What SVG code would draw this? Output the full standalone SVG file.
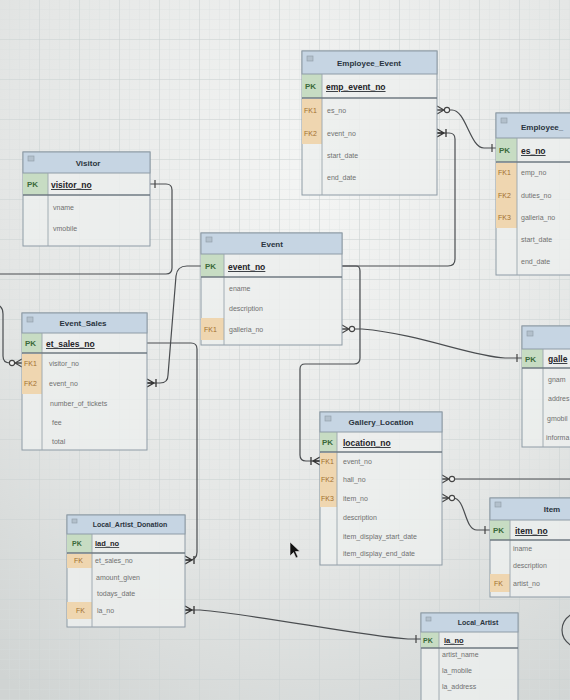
<svg xmlns="http://www.w3.org/2000/svg" width="570" height="700" viewBox="0 0 570 700">
<defs>
<radialGradient id="bg" cx="0.55" cy="0.25" r="0.9">
<stop offset="0" stop-color="#f4f5f4"/>
<stop offset="0.6" stop-color="#e4e6e5"/>
<stop offset="1" stop-color="#d0d4d3"/>
</radialGradient>
<pattern id="minor" width="10" height="10" patternUnits="userSpaceOnUse">
<path d="M10 0V10H0" fill="none" stroke="#d9dddd" stroke-width="0.6"/>
</pattern>
<pattern id="major" width="40" height="40" patternUnits="userSpaceOnUse">
<path d="M40 0V40H0" fill="none" stroke="#c9cfcf" stroke-width="0.9"/>
</pattern>
<marker id="one" viewBox="-14 -6 16 12" refX="0" refY="0" markerWidth="16" markerHeight="12" markerUnits="userSpaceOnUse" orient="auto-start-reverse" overflow="visible">
<path d="M-5 -4V4" stroke="#444" stroke-width="1.2" fill="none"/>
</marker>
<marker id="zmany" viewBox="-16 -6 18 12" refX="0" refY="0" markerWidth="18" markerHeight="12" markerUnits="userSpaceOnUse" orient="auto-start-reverse" overflow="visible">
<path d="M0 -4L-7 0L0 4M0 0H-7" stroke="#444" stroke-width="1.1" fill="none"/>
<circle cx="-10" cy="0" r="2.6" fill="#f2f3f2" stroke="#444" stroke-width="1.1"/>
</marker>
<marker id="omany" viewBox="-16 -6 18 12" refX="0" refY="0" markerWidth="18" markerHeight="12" markerUnits="userSpaceOnUse" orient="auto-start-reverse" overflow="visible">
<path d="M0 -4L-7 0L0 4M0 0H-7M-9 -4V4" stroke="#333" stroke-width="1.3" fill="none"/>
</marker>
</defs>
<style>
.body{fill:#eceeed;fill-opacity:0.85;stroke:#8e9ba6;stroke-width:1}
.hdr{fill:#c6d5e3;stroke:#8e9ba6;stroke-width:1}
.pkc{fill:#c7dcc3}
.fkc{fill:#efd6b0}
.div{stroke:#9aa5ad;stroke-width:0.9;fill:none}
.sep{stroke:#6f7a82;stroke-width:1.3;fill:none}
.ico{fill:#b3c0cc;stroke:#8e9ba6;stroke-width:0.6}
.ttl{font-family:"Liberation Sans",Arial,sans-serif;font-size:8px;font-weight:bold;fill:#2a3440}
.pk{font-family:"Liberation Sans",Arial,sans-serif;font-size:8px;font-weight:bold;fill:#3b6a3b}
.fk{font-family:"Liberation Sans",Arial,sans-serif;font-size:7px;fill:#a26f2e}
.pkn{font-family:"Liberation Sans",Arial,sans-serif;font-size:8.5px;font-weight:bold;fill:#1e2328;text-decoration:underline}
.row{font-family:"Liberation Sans",Arial,sans-serif;font-size:7px;fill:#707070}
.con{fill:none;stroke:#4a4d50;stroke-width:1.2}
</style>
<rect width="570" height="700" fill="url(#bg)"/>
<rect width="570" height="700" fill="url(#minor)"/>
<rect width="570" height="700" fill="url(#major)"/>

<g id="connectors">
<path class="con" marker-start="url(#zmany)" marker-end="url(#one)" d="M437,110 H452 C466,110 470,148 484,148 H497"/>
<path class="con" marker-start="url(#omany)" d="M437,133 H449 Q455,133 455,139 V259 Q455,266 448,266 H342"/>
<path class="con" marker-end="url(#omany)" d="M342,266 H356 Q360,266 360,271 V358 Q360,364 354,364 H305 Q300,364 300,369 V455 Q300,461 306,461 H320"/>
<path class="con" marker-start="url(#zmany)" marker-end="url(#one)" d="M342,329 H362 C420,334 470,356 505,358 H522"/>
<path class="con" marker-start="url(#one)" marker-end="url(#zmany)" d="M150,184 H166 Q172,184 172,190 V268 Q172,274 166,274 H-8 V304 Q3,304 3,314 V356 Q3,363 10,363 H22"/>
<path class="con" marker-start="url(#omany)" d="M147,383 H160 Q168,383 168,375 L176,276 Q177,266 187,266 H201"/>
<path class="con" marker-end="url(#omany)" d="M147,343 H191 Q197,343 197,349 V552 Q197,560 189,560 H185"/>
<path class="con" marker-start="url(#zmany)" d="M442,479 H580"/>
<path class="con" marker-start="url(#zmany)" marker-end="url(#one)" d="M442,498 H453 C466,498 464,530 477,530 H490"/>
<path class="con" marker-start="url(#omany)" marker-end="url(#one)" d="M185,610 H200 C260,615 360,636 408,639 H421"/>
<path class="con" d="M572,614 Q562,620 562,630 Q562,640 572,646"/>
</g>

<g id="Employee_Event">
<rect class="body" x="302" y="51" width="135" height="144"/>
<rect class="pkc" x="302" y="74" width="20" height="24"/>
<rect class="fkc" x="302" y="99" width="20" height="45"/>
<rect class="hdr" x="302" y="51" width="135" height="23"/>
<rect class="ico" x="307" y="56" width="6" height="5"/>
<path class="div" d="M322,74 V195"/>
<path class="sep" d="M302,98 H437"/>
<text class="ttl" x="369" y="66" text-anchor="middle">Employee_Event</text>
<text class="pk" x="305" y="89">PK</text>
<text class="pkn" x="326" y="90">emp_event_no</text>
<text class="fk" x="304" y="113">FK1</text><text class="row" x="327" y="113">es_no</text>
<text class="fk" x="304" y="136">FK2</text><text class="row" x="327" y="136">event_no</text>
<text class="row" x="327" y="158">start_date</text>
<text class="row" x="327" y="180">end_date</text>
</g>

<g id="Employee">
<rect class="body" x="496" y="113" width="110" height="162"/>
<rect class="pkc" x="496" y="138" width="21" height="24"/>
<rect class="fkc" x="496" y="163" width="21" height="65"/>
<rect class="hdr" x="496" y="113" width="110" height="25"/>
<rect class="ico" x="501" y="118" width="6" height="5"/>
<path class="div" d="M517,138 V275"/>
<path class="sep" d="M496,162 H606"/>
<text class="ttl" x="521" y="130">Employee_</text>
<text class="pk" x="499" y="153">PK</text>
<text class="pkn" x="521" y="154">es_no</text>
<text class="fk" x="498" y="175">FK1</text><text class="row" x="521" y="175">emp_no</text>
<text class="fk" x="498" y="198">FK2</text><text class="row" x="521" y="198">duties_no</text>
<text class="fk" x="498" y="220">FK3</text><text class="row" x="521" y="220">galleria_no</text>
<text class="row" x="521" y="242">start_date</text>
<text class="row" x="521" y="264">end_date</text>
</g>

<g id="Visitor">
<rect class="body" x="23" y="152" width="127" height="94"/>
<rect class="pkc" x="23" y="173" width="25" height="22"/>
<rect class="hdr" x="23" y="152" width="127" height="21"/>
<rect class="ico" x="28" y="156" width="6" height="5"/>
<path class="div" d="M48,173 V246"/>
<path class="sep" d="M23,195 H150"/>
<text class="ttl" x="88" y="166" text-anchor="middle">Visitor</text>
<text class="pk" x="27" y="187">PK</text>
<text class="pkn" x="51" y="188">visitor_no</text>
<text class="row" x="53" y="210">vname</text>
<text class="row" x="53" y="231">vmobile</text>
</g>

<g id="Event">
<rect class="body" x="201" y="233" width="141" height="112"/>
<rect class="pkc" x="201" y="254" width="23" height="23"/>
<rect class="fkc" x="201" y="318" width="23" height="22"/>
<rect class="hdr" x="201" y="233" width="141" height="21"/>
<rect class="ico" x="206" y="237" width="6" height="5"/>
<path class="div" d="M224,254 V345"/>
<path class="sep" d="M201,277 H342"/>
<text class="ttl" x="272" y="247" text-anchor="middle">Event</text>
<text class="pk" x="205" y="269">PK</text>
<text class="pkn" x="228" y="270">event_no</text>
<text class="row" x="229" y="291">ename</text>
<text class="row" x="229" y="311">description</text>
<text class="fk" x="204" y="332">FK1</text><text class="row" x="229" y="332">galleria_no</text>
</g>

<g id="Event_Sales">
<rect class="body" x="22" y="313" width="125" height="137"/>
<rect class="pkc" x="22" y="333" width="20" height="20"/>
<rect class="fkc" x="22" y="354" width="20" height="40"/>
<rect class="hdr" x="22" y="313" width="125" height="20"/>
<rect class="ico" x="27" y="317" width="6" height="5"/>
<path class="div" d="M42,333 V450"/>
<path class="sep" d="M22,353 H147"/>
<text class="ttl" x="83" y="326" text-anchor="middle">Event_Sales</text>
<text class="pk" x="25" y="346">PK</text>
<text class="pkn" x="46" y="347">et_sales_no</text>
<text class="fk" x="24" y="366">FK1</text><text class="row" x="49" y="366">visitor_no</text>
<text class="fk" x="24" y="386">FK2</text><text class="row" x="49" y="386">event_no</text>
<text class="row" x="50" y="406">number_of_tickets</text>
<text class="row" x="52" y="425">fee</text>
<text class="row" x="52" y="444">total</text>
</g>

<g id="Gallery">
<rect class="body" x="522" y="326" width="100" height="121"/>
<rect class="pkc" x="522" y="349" width="21" height="19"/>
<rect class="hdr" x="522" y="326" width="100" height="23"/>
<rect class="ico" x="527" y="331" width="6" height="5"/>
<path class="div" d="M543,349 V447"/>
<path class="sep" d="M522,368 H622"/>
<text class="pk" x="525" y="362">PK</text>
<text class="pkn" x="548" y="362">galle</text>
<text class="row" x="548" y="382">gnam</text>
<text class="row" x="548" y="401">addres</text>
<text class="row" x="547" y="421">gmobil</text>
<text class="row" x="546" y="440">informa</text>
</g>

<g id="Gallery_Location">
<rect class="body" x="320" y="412" width="122" height="153"/>
<rect class="pkc" x="320" y="432" width="17" height="20"/>
<rect class="fkc" x="320" y="453" width="17" height="54"/>
<rect class="hdr" x="320" y="412" width="122" height="20"/>
<rect class="ico" x="325" y="416" width="6" height="5"/>
<path class="div" d="M337,432 V565"/>
<path class="sep" d="M320,452 H442"/>
<text class="ttl" x="381" y="425" text-anchor="middle">Gallery_Location</text>
<text class="pk" x="322" y="445">PK</text>
<text class="pkn" x="343" y="446">location_no</text>
<text class="fk" x="321" y="464">FK1</text><text class="row" x="343" y="464">event_no</text>
<text class="fk" x="321" y="482">FK2</text><text class="row" x="343" y="482">hall_no</text>
<text class="fk" x="321" y="501">FK3</text><text class="row" x="343" y="501">item_no</text>
<text class="row" x="343" y="520">description</text>
<text class="row" x="343" y="539">item_display_start_date</text>
<text class="row" x="343" y="556">item_display_end_date</text>
</g>

<g id="Item">
<rect class="body" x="490" y="498" width="120" height="99"/>
<rect class="pkc" x="490" y="520" width="20" height="20"/>
<rect class="fkc" x="490" y="574" width="20" height="18"/>
<rect class="hdr" x="490" y="498" width="120" height="22"/>
<rect class="ico" x="495" y="502" width="6" height="5"/>
<path class="div" d="M510,520 V597"/>
<path class="sep" d="M490,540 H610"/>
<text class="ttl" x="552" y="512" text-anchor="middle">Item</text>
<text class="pk" x="493" y="533">PK</text>
<text class="pkn" x="515" y="534">item_no</text>
<text class="row" x="513" y="551">iname</text>
<text class="row" x="513" y="568">description</text>
<text class="fk" x="494" y="586">FK</text><text class="row" x="513" y="586">artist_no</text>
</g>

<g id="Local_Artist_Donation">
<rect class="body" x="67" y="515" width="118" height="112"/>
<rect class="pkc" x="67" y="534" width="25" height="19"/>
<rect class="fkc" x="67" y="554" width="25" height="14"/>
<rect class="fkc" x="67" y="602" width="25" height="17"/>
<rect class="hdr" x="67" y="515" width="118" height="19"/>
<rect class="ico" x="72" y="519" width="5" height="4"/>
<path class="div" d="M92,534 V627"/>
<path class="sep" d="M67,553 H185"/>
<text class="ttl" x="130" y="527" text-anchor="middle" style="font-size:7px">Local_Artist_Donation</text>
<text class="pk" x="72" y="546" style="font-size:7px">PK</text>
<text class="pkn" x="95" y="546" style="font-size:7.5px">lad_no</text>
<text class="fk" x="74" y="563">FK</text><text class="row" x="95" y="563">et_sales_no</text>
<text class="row" x="96" y="580">amount_given</text>
<text class="row" x="97" y="596">todays_date</text>
<text class="fk" x="76" y="613">FK</text><text class="row" x="97" y="613">la_no</text>
</g>

<g id="Local_Artist">
<rect class="body" x="421" y="613" width="97" height="97"/>
<rect class="pkc" x="421" y="632" width="18" height="16"/>
<rect class="hdr" x="421" y="613" width="97" height="19"/>
<rect class="ico" x="426" y="617" width="5" height="4"/>
<path class="div" d="M439,632 V700"/>
<path class="sep" d="M421,648 H518"/>
<text class="ttl" x="478" y="625" text-anchor="middle" style="font-size:7px">Local_Artist</text>
<text class="pk" x="423" y="643" style="font-size:7px">PK</text>
<text class="pkn" x="444" y="643" style="font-size:7.5px">la_no</text>
<text class="row" x="442" y="657">artist_name</text>
<text class="row" x="442" y="673">la_mobile</text>
<text class="row" x="442" y="689">la_address</text>
</g>

<path d="M290,542 L290,556 L293.5,552.5 L296,558 L298,557 L295.5,551.5 L300,551.5 Z" fill="#111" stroke="#eee" stroke-width="0.6"/>
</svg>
